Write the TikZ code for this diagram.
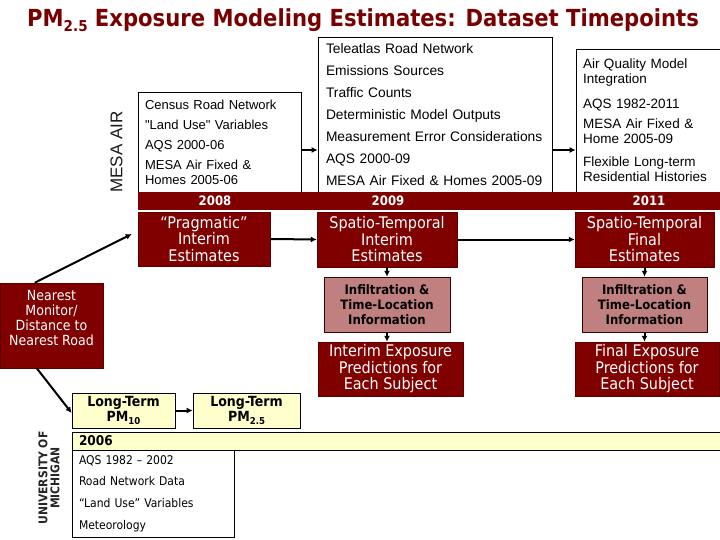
\documentclass[tikz,border=0pt]{standalone}
\usepackage{fontspec}
\setmainfont{Liberation Sans}
\newfontfamily\tah{DejaVu Sans Condensed}
\newfontfamily\ari{Liberation Sans}
\usetikzlibrary{arrows.meta,calc}
\definecolor{dred}{HTML}{800000}
\definecolor{titred}{HTML}{780000}
\definecolor{infpink}{HTML}{C08080}
\definecolor{ltyel}{HTML}{FFFFCC}
\newcommand\mybox[7]{%
  \node[inner sep=0pt, minimum width={(#4-#2)*1pt}, minimum height={(#5-#3)*1pt}, #6] (#1) at ({(#2+#4)/2},{(#3+#5)/2}) {#7};}
\begin{document}
\begin{tikzpicture}[x=1pt,y=-1pt,
  srcbox/.style={draw=black, line width=0.7pt, fill=white, align=left},
  redbox/.style={draw=dred!70!black, line width=0.5pt, fill=dred, text=white, align=center, font=\tah\fontsize{16}{16.5}\selectfont},
  infbox/.style={draw=dred!50!black, line width=0.5pt, fill=infpink, text=black, align=center, font=\tah\bfseries\fontsize{13}{15.3}\selectfont},
  yelbox/.style={draw=black, line width=0.7pt, fill=ltyel, align=center, font=\tah\bfseries\fontsize{14}{15}\selectfont},
  yearlbl/.style={text=white, font=\tah\bfseries\fontsize{13}{14}\selectfont, inner sep=0pt},
  arr/.style={-{Latex[length=6pt,width=6pt]}, line width=2pt, black}]
\useasboundingbox (0,0) rectangle (720,540);
\fill[white] (0,0) rectangle (720,540);

% title
\node[anchor=base west, inner sep=0pt, text=titred, font=\tah\bfseries\fontsize{23.5}{26}\selectfont] (title) at (27,27)
  {PM\raisebox{-5pt}{\fontsize{15}{15}\selectfont 2.5} Exposure Modeling Estimates: Dataset Timepoints};

% side labels
\node[rotate=90, inner sep=0pt, text=black!90, font=\ari\fontsize{17}{18}\selectfont] (mesa) at (116.5,152) {MESA AIR};
\node[rotate=90, inner sep=0pt, align=center, text=black!85, font=\tah\bfseries\fontsize{12}{12}\selectfont] (umich) at (49,478) {UNIVERSITY OF\\MICHIGAN};

% source boxes
\mybox{box1}{138}{92}{301}{192}{srcbox, inner xsep=7pt, text width=149pt, font=\ari\fontsize{13}{15}\selectfont}
  {Census Road Network\\[5pt]"Land Use" Variables\\[5pt]AQS 2000-06\\[5pt]MESA Air Fixed \&\\Homes 2005-06}
\mybox{box2}{318}{37}{552}{192}{srcbox, inner xsep=8pt, text width=218pt, font=\ari\fontsize{13.8}{22}\selectfont}
  {Teleatlas Road Network\\Emissions Sources\\Traffic Counts\\Deterministic Model Outputs\\Measurement Error Considerations\\AQS 2000-09\\MESA Air Fixed \& Homes 2005-09}
\mybox{box3}{576}{49}{720}{192}{srcbox, inner xsep=7pt, text width=130pt, font=\ari\fontsize{13.5}{15}\selectfont}
  {Air Quality Model\\Integration\\[10pt]AQS 1982-2011\\[5pt]MESA Air Fixed \&\\Home 2005-09\\[8pt]Flexible Long-term\\Residential Histories}

% year bar
\mybox{bar}{138}{192}{720}{209}{fill=dred, draw=dred}{}
\node[yearlbl] (y2008) at (215,200.5) {2008};
\node[yearlbl] (y2009) at (388,200.5) {2009};
\node[yearlbl] (y2011) at (649,200.5) {2011};

\coordinate (y150) at (0,150);
\draw[arr] (box1.east |- y150) -- (box2.west |- y150);
\draw[arr] (box2.east |- y150) -- (box3.west |- y150);

% estimate boxes
\mybox{prag}{138}{212}{270}{266}{redbox}{“Pragmatic”\\Interim\\Estimates}
\mybox{sti}{317}{212}{457}{267}{redbox}{Spatio-Temporal\\Interim\\Estimates}
\mybox{stf}{575}{212}{714}{267}{redbox}{Spatio-Temporal\\Final\\Estimates}
\mybox{infi}{324}{277}{450}{332}{infbox}{Infiltration \&\\Time-Location\\Information}
\mybox{inff}{582}{277}{707}{332}{infbox}{Infiltration \&\\Time-Location\\Information}
\mybox{expi}{318}{342}{463}{396}{redbox}{Interim Exposure\\Predictions for\\Each Subject}
\mybox{expf}{575}{342}{719}{396}{redbox}{Final Exposure\\Predictions for\\Each Subject}
\mybox{near}{0}{283}{103}{368}{redbox, font=\tah\fontsize{14}{15}\selectfont}{Nearest\\Monitor/\\Distance to\\Nearest Road\\\mbox{}}

\draw[arr] (prag.east) -- (sti.west);
\draw[arr] (sti.east) -- (stf.west);
\draw[arr] (sti.south) -- (sti.south |- infi.north);
\draw[arr] (infi.south) -- (infi.south |- expi.north);
\draw[arr] (stf.south) -- (stf.south |- inff.north);
\draw[arr] (inff.south) -- (inff.south |- expf.north);

% long-term boxes
\mybox{pmten}{72}{393}{175}{428}{yelbox}{Long-Term\\PM\raisebox{-2.5pt}{\fontsize{9.5}{9.5}\selectfont 10}}
\mybox{pmtwo}{193}{393}{300}{428}{yelbox}{Long-Term\\PM\raisebox{-2.5pt}{\fontsize{9.5}{9.5}\selectfont 2.5}}
\draw[arr] (pmten.east) -- (pmtwo.west);

\draw[arr] ([xshift=35pt]near.north west) -- ([xshift=-6pt,yshift=5pt]prag.west);
\draw[arr] ([xshift=37pt]near.south west) -- ([yshift=-2.5pt]pmten.west);

% 2006
\mybox{bar06}{72}{432}{720}{450}{draw=black, line width=0.7pt, fill=ltyel, inner xsep=7pt, text width=634pt, align=left, font=\tah\bfseries\fontsize{13.5}{14}\selectfont}{2006}
\mybox{box06}{72}{450}{234}{537}{srcbox, inner xsep=7pt, text width=148pt, font=\tah\fontsize{12}{21.7}\selectfont}
  {AQS 1982 – 2002\\Road Network Data\\“Land Use” Variables\\Meteorology}
\end{tikzpicture}
\end{document}
